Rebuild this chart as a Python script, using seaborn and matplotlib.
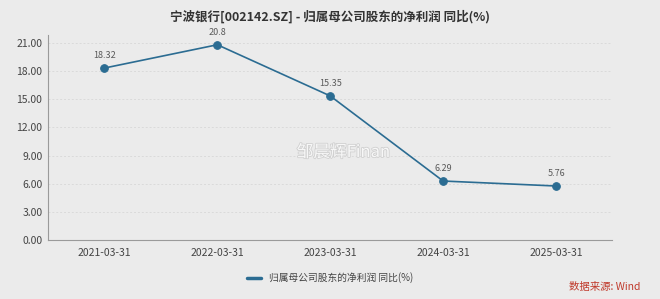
import matplotlib
matplotlib.use("Agg")
import matplotlib.pyplot as plt
import matplotlib.patheffects as pe
import seaborn as sns
import pandas as pd

dates = ["2021-03-31", "2022-03-31", "2023-03-31", "2024-03-31", "2025-03-31"]
values = [18.32, 20.8, 15.35, 6.29, 5.76]
value_labels = ["18.32", "20.8", "15.35", "6.29", "5.76"]
yticks = [0, 3, 6, 9, 12, 15, 18, 21]
series_name = "归属母公司股东的净利润 同比(%)"
title = "宁波银行[002142.SZ] - 归属母公司股东的净利润 同比(%)"

sns.set_style("white")
plt.rcParams['font.family'] = ['Noto Sans CJK SC', 'DejaVu Sans']

bg = "#ebebeb"
line_color = "#2b6c92"

fig = plt.figure(figsize=(6.6, 2.99), dpi=100, facecolor=bg)
ax = fig.add_axes([0.0727, 0.197, 0.8553, 0.686])
ax.set_facecolor(bg)

df = pd.DataFrame({"date": dates, "value": values})
sns.lineplot(data=df, x="date", y="value", ax=ax, color=line_color, marker="o",
             markersize=5.5, markeredgecolor=line_color, linewidth=1.2,
             label=series_name, sort=False)

for i, (v, t) in enumerate(zip(values, value_labels)):
    ax.annotate(t, (i, v), xytext=(0, 5.5), textcoords="offset points",
                ha="center", va="bottom", fontsize=6.5, color="#5a5a5a")

ax.set_xlim(-0.5, len(dates) - 0.5)
ax.set_ylim(0, 21.84)
ax.set_yticks(yticks)
ax.set_yticklabels([f"{t:.2f}" for t in yticks])
ax.grid(axis="y", color="#dadada", linestyle=(0, (2, 2)), linewidth=0.7)
ax.grid(axis="x", visible=False)
ax.set_xlabel("")
ax.set_ylabel("")
for s in ["top", "right"]:
    ax.spines[s].set_visible(False)
for s in ["left", "bottom"]:
    ax.spines[s].set_color("#9a9a9a")
    ax.spines[s].set_linewidth(0.8)
ax.tick_params(axis="y", length=3, color="#9a9a9a", labelsize=7.5, labelcolor="#444444", pad=1)
ax.tick_params(axis="x", length=4, direction="inout", color="#9a9a9a", labelsize=7.5, labelcolor="#444444", pad=4)

leg = ax.legend(loc="upper center", bbox_to_anchor=(0.5, -0.115), frameon=False,
                fontsize=7, handlelength=1.4, handletextpad=0.8)
for h in leg.get_lines():
    h.set_marker("")
    h.set_linewidth(2.5)
for t in leg.get_texts():
    t.set_color("#444444")

fig.text(0.5, 0.945, title, ha="center", va="center", fontsize=9, fontweight="bold", color="#333333")
fig.text(0.97, 0.04, "数据来源: Wind", ha="right", va="center", fontsize=7.5, color="#c0392b")
fig.text(0.52, 0.49, "邹晨辉Finan", ha="center", va="center", fontsize=12, color="#f7f7f7",
         path_effects=[pe.withStroke(linewidth=1.2, foreground="#d0d0d0")])

fig.savefig("out.png", dpi=100, facecolor=bg)
